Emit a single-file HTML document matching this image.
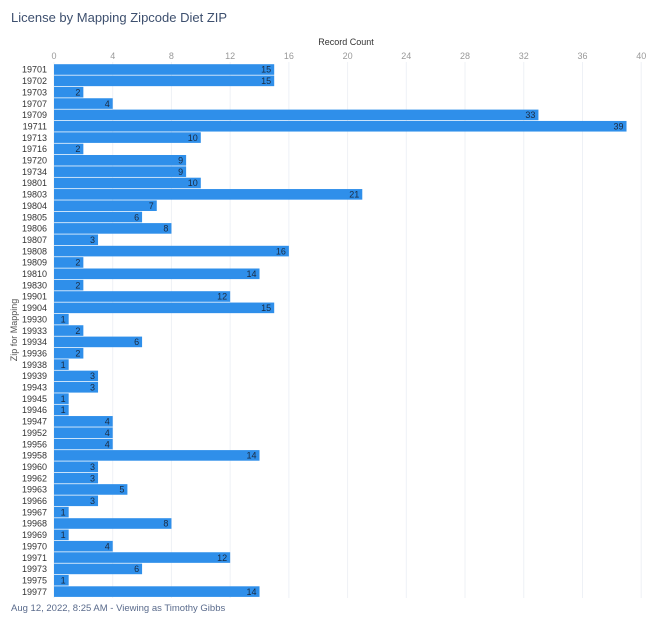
<!DOCTYPE html>
<html><head><meta charset="utf-8"><style>
body{margin:0;background:#fff;font-family:"Liberation Sans",sans-serif;}
#wrap{position:relative;width:669px;height:633px;overflow:hidden}
.title{position:absolute;left:11px;top:10px;font-size:13px;color:#3d4f6e}
.foot{position:absolute;left:11px;top:603px;font-size:9.5px;color:#5a6b8c}
</style></head><body>
<div id="wrap">
<div class="title">License by Mapping Zipcode Diet ZIP</div>
<svg id="chart" width="669" height="633" style="position:absolute;left:0;top:0"></svg>
<div class="foot">Aug 12, 2022, 8:25 AM - Viewing as Timothy Gibbs</div>
</div>
<script>
const categories=["19701","19702","19703","19707","19709","19711","19713","19716","19720","19734","19801","19803","19804","19805","19806","19807","19808","19809","19810","19830","19901","19904","19930","19933","19934","19936","19938","19939","19943","19945","19946","19947","19952","19956","19958","19960","19962","19963","19966","19967","19968","19969","19970","19971","19973","19975","19977"];
const values=[15,15,2,4,33,39,10,2,9,9,10,21,7,6,8,3,16,2,14,2,12,15,1,2,6,2,1,3,3,1,1,4,4,4,14,3,3,5,3,1,8,1,4,12,6,1,14];
const xTicks=[0,4,8,12,16,20,24,28,32,36,40];
const NS="http://www.w3.org/2000/svg";
const svg=document.getElementById('chart');
const x0=54,xs=14.68,y0=69.5,step=11.35,bh=10.6;
const X=v=>x0+v*xs, Y=i=>y0+i*step;
function mk(t,a){const e=document.createElementNS(NS,t);for(const k in a)e.setAttribute(k,a[k]);svg.appendChild(e);return e;}
xTicks.forEach(t=>{
 const g=mk('line',{x1:X(t),x2:X(t),y1:62,y2:598,stroke:'#eef1f6','stroke-width':1});
 
 
 const l=mk('text',{x:X(t),y:59,'font-size':9,fill:'#999','text-anchor':'middle'});l.textContent=t;
 
 
});
const at=mk('text',{x:346,y:45,'font-size':9,fill:'#333','text-anchor':'middle'});at.textContent='Record Count';


const yt=mk('text',{x:0,y:0,'font-size':9,fill:'#555','text-anchor':'middle',transform:'translate(17,330) rotate(-90)'});yt.textContent='Zip for Mapping';


categories.forEach((c,i)=>{
 const cy=Y(i);
 const l=mk('text',{x:47,y:cy+3.2,'font-size':9,fill:'#333','text-anchor':'end'});l.textContent=c;
 
 
 const r=mk('rect',{x:x0,y:cy-bh/2,width:values[i]*xs,height:bh,fill:'#2f8fea'});
 
 
 const v=mk('text',{x:X(values[i])-3,y:cy+3.2,'font-size':9,fill:'#1a2a40','text-anchor':'end'});v.textContent=values[i];
 
 
});
</script>
</body></html>
